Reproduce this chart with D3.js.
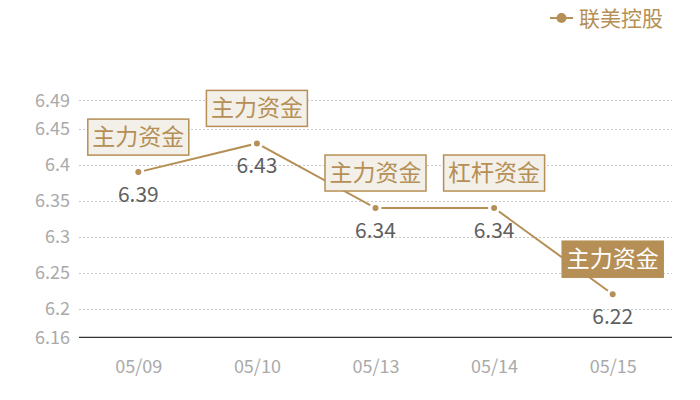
<!DOCTYPE html>
<html>
<head>
<meta charset="utf-8">
<script src="https://cdn.jsdelivr.net/npm/d3@7"></script>
<style>
  body { margin: 0; background: #fff; }
  text { font-family: "Noto Sans CJK SC", "Open Sans", sans-serif; }
</style>
</head>
<body>
<svg id="chart" width="700" height="400"></svg>
<script>
var dates = ["05/09", "05/10", "05/13", "05/14", "05/15"];
var prices = [6.39, 6.43, 6.34, 6.34, 6.22];
var tags = ["主力资金", "主力资金", "主力资金", "杠杆资金", "主力资金"];
var yTicks = [6.16, 6.2, 6.25, 6.3, 6.35, 6.4, 6.45, 6.49];
var seriesName = "联美控股";

var gold = "#b58f55";
var svg = d3.select("#chart");

var plotLeft = 79, plotRight = 672, plotTop = 100.3, plotBottom = 337.3;

var x = d3.scalePoint()
  .domain(dates)
  .range([plotLeft, plotRight])
  .padding(0.5);

var y = d3.scaleLinear()
  .domain([6.16, 6.49])
  .range([plotBottom, plotTop]);

// horizontal grid, skip the baseline
svg.append("g").selectAll("line.grid")
  .data(yTicks.slice(1))
  .enter()
  .append("line")
  .attr("class", "grid")
  .attr("x1", plotLeft)
  .attr("x2", plotRight)
  .attr("y1", function (d) { return Math.round(y(d)) + 0.5; })
  .attr("y2", function (d) { return Math.round(y(d)) + 0.5; })
  .attr("stroke", "#c8c8c8")
  .attr("stroke-width", 1)
  .attr("stroke-dasharray", "2,2");

// y axis labels
var yAxis = svg.append("g")
  .attr("transform", "translate(" + plotLeft + ",0)")
  .call(d3.axisLeft(y).tickValues(yTicks).tickSize(0).tickPadding(9).tickFormat(function (d) { return d; }));
yAxis.select(".domain").remove();
yAxis.selectAll("text")
  .attr("fill", "#aaa")
  .style("font-size", "18px");

// x axis
var xAxis = svg.append("g")
  .attr("transform", "translate(0," + plotBottom + ")")
  .call(d3.axisBottom(x).tickSize(0).tickPadding(23));
xAxis.select(".domain").remove();
xAxis.selectAll("text")
  .attr("fill", "#aaa")
  .style("font-size", "18px");

svg.append("line")
  .attr("x1", plotLeft)
  .attr("x2", plotRight)
  .attr("y1", y(6.16))
  .attr("y2", y(6.16))
  .attr("stroke", "#333")
  .attr("stroke-width", 1.2);

// series line
var line = d3.line()
  .x(function (d, i) { return x(dates[i]); })
  .y(function (d) { return y(d); });

svg.append("path")
  .datum(prices)
  .attr("d", line)
  .attr("fill", "none")
  .attr("stroke", gold)
  .attr("stroke-width", 2);

// dots with white ring to leave a gap on the line
svg.selectAll("circle.dot")
  .data(prices)
  .enter()
  .append("circle")
  .attr("class", "dot")
  .attr("cx", function (d, i) { return x(dates[i]); })
  .attr("cy", function (d) { return y(d); })
  .attr("r", 4.5)
  .attr("fill", gold)
  .attr("stroke", "#fff")
  .attr("stroke-width", 3);

// value labels
svg.selectAll("text.val")
  .data(prices)
  .enter()
  .append("text")
  .attr("class", "val")
  .attr("x", function (d, i) { return x(dates[i]); })
  .attr("y", function (d) { return y(d) + 30; })
  .attr("text-anchor", "middle")
  .attr("fill", "#5f5f5f")
  .style("font-size", "21px")
  .text(function (d) { return d; });

// tag boxes
var boxW = 101, boxH = 36;
var tagG = svg.selectAll("g.tag")
  .data(prices)
  .enter()
  .append("g")
  .attr("class", "tag")
  .attr("transform", function (d, i) {
    return "translate(" + x(dates[i]) + "," + (y(d) - 17) + ")";
  });

tagG.append("rect")
  .attr("x", -boxW / 2)
  .attr("y", -boxH)
  .attr("width", boxW)
  .attr("height", boxH)
  .attr("fill", function (d, i) { return i === prices.length - 1 ? gold : "#f3efe9"; })
  .attr("stroke", gold)
  .attr("stroke-width", 1.5);

tagG.append("text")
  .attr("x", 0)
  .attr("y", -boxH / 2 + 8)
  .attr("text-anchor", "middle")
  .attr("fill", function (d, i) { return i === prices.length - 1 ? "#fff" : gold; })
  .style("font-size", "23px")
  .text(function (d, i) { return tags[i]; });

// legend
var legend = svg.append("g").attr("transform", "translate(550,18)");
legend.append("line")
  .attr("x1", 0).attr("x2", 23).attr("y1", 0).attr("y2", 0)
  .attr("stroke", gold).attr("stroke-width", 2);
legend.append("circle")
  .attr("cx", 11.5).attr("cy", 0).attr("r", 5)
  .attr("fill", gold);
legend.append("text")
  .attr("x", 29).attr("y", 8)
  .attr("fill", gold)
  .style("font-size", "21px")
  .text(seriesName);
</script>
</body>
</html>
